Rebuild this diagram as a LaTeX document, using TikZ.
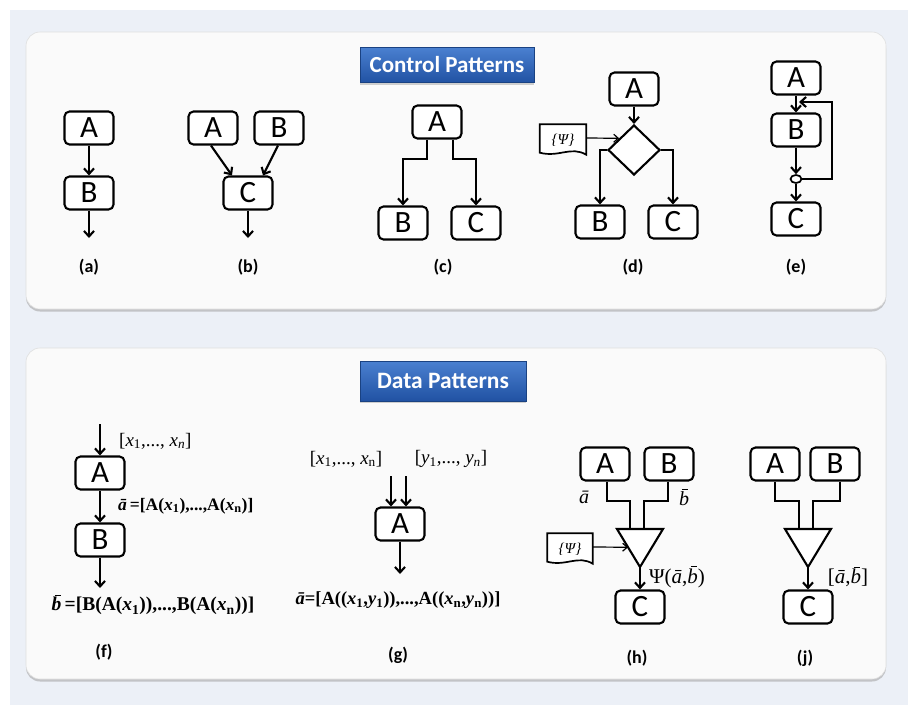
\documentclass[tikz,border=0pt]{standalone}
\usepackage{fontspec}
\setmainfont{Liberation Serif}
\newfontfamily\carl{Carlito}
\usetikzlibrary{arrows.meta,shapes.geometric,shadows,calc}
\definecolor{bgc}{HTML}{ECF0F7}
\definecolor{panelc}{HTML}{FAFAFA}
\definecolor{titleA}{HTML}{4A80D0}
\definecolor{titleB}{HTML}{2152A3}
\newcommand\va{\textit{ā}}
\newcommand\vb{{\itshape\setbox0\hbox{b}\makebox[0pt][l]{\hspace{0.32\wd0}\rule[1.1\ht0]{0.58\wd0}{0.055em}}\box0}}
\newcommand\iv[1]{\textit{#1}}
\begin{document}
\begin{tikzpicture}[x=1pt,y=-1pt,
  panel/.style={fill=panelc,draw=gray!25,line width=0.6pt,rounded corners=14pt,
     drop shadow={shadow xshift=0pt,shadow yshift=-2.5pt,fill=gray!70,opacity=.6}},
  title/.style={top color=titleA,bottom color=titleB,draw=titleB!80!black,line width=0.4pt,
     text=white,font=\carl\bfseries\fontsize{23}{23}\selectfont,minimum width=174pt,
     minimum height=35pt,inner sep=0pt,
     drop shadow={shadow xshift=0pt,shadow yshift=-2pt,fill=gray!60,opacity=.6}},
  bx/.style={draw,fill=white,line width=2.1pt,rounded corners=5pt,minimum width=49pt,
     minimum height=33pt,inner sep=0pt,font=\carl\fontsize{31}{31}\selectfont},
  lbl/.style={font=\carl\bfseries\fontsize{18}{18}\selectfont},
  ln/.style={line width=2.1pt},
  arr/.style={line width=2.1pt,-{Straight Barb[length=5.5pt,width=10pt]}},
  thinarr/.style={line width=1.2pt,-{Straight Barb[length=4.5pt,width=8pt]}},
  psibox/.style={minimum width=46pt,minimum height=27pt,inner sep=0pt},
  psitext/.style={inner sep=0pt,font=\itshape\fontsize{15}{15}\selectfont},
  math/.style={font=\fontsize{19}{19}\selectfont,inner sep=0pt},
  mathb/.style={font=\bfseries\fontsize{18.5}{18.5}\selectfont,inner sep=0pt}
]
\useasboundingbox (0,0) rectangle (908,705);
\fill[white] (0,0) rectangle (908,705);
\fill[bgc] (10,10) rectangle (908,705);

% panels
\path[panel] (26,32) rectangle (886,309);
\path[panel] (26,348) rectangle (886,679);
\node[title] (t1) at (447,65) {Control Patterns};
\node[title,minimum width=166pt,minimum height=40pt,font=\carl\bfseries\fontsize{23.5}{23.5}\selectfont] (t2) at (443,381) {Data Patterns};

% (a)
\node[bx] (aA) at (89,128) {A};
\node[bx] (aB) at (89,193) {B};
\coordinate (aE) at (89,238);
\draw[arr] (aA) -- (aB);
\draw[arr] (aB) -- (aE);
\node[lbl] (la) at (89,267) {(a)};

% (b)
\node[bx] (bA) at (213,128) {A};
\node[bx] (bB) at (279,128) {B};
\node[bx] (bC) at (248,193) {C};
\coordinate (bE) at (248,238);
\draw[arr] ([xshift=-2pt]bA.south) -- ([xshift=-16pt]bC.north);
\draw[arr] ([xshift=-1pt]bB.south) -- ([xshift=15pt]bC.north);
\draw[arr] (bC) -- (bE);
\node[lbl] (lb) at (248,267) {(b)};

% (c)
\node[bx] (cA) at (437,122) {A};
\node[bx] (cB) at (403,223) {B};
\node[bx] (cC) at (476,223) {C};
\draw[arr] ([xshift=-10pt]cA.south) -- ++(0,19) -| (cB.north);
\draw[arr] ([xshift=16pt]cA.south) -- ++(0,19) -| (cC.north);
\node[lbl] (lc) at (443,267) {(c)};

% (d)
\node[bx] (dA) at (634,89) {A};
\node[diamond,draw,fill=white,line width=2.1pt,minimum width=52pt,minimum height=50pt,inner sep=0pt] (dD) at (634,150) {};
\node[bx] (dB) at (600,222) {B};
\node[bx] (dC) at (673,222) {C};
\node[psibox] (dP) at (563,138) {};
\draw[line width=1.7pt,fill=white] (dP.north west) -- (dP.north east) -- ([yshift=-3pt]dP.south east)
   .. controls ($(dP.south)+(8,-6)$) and ($(dP.south)+(-4,6)$) .. ([yshift=-1pt]dP.south west) -- cycle;
\node[psitext] (dPt) at ([yshift=-2pt]dP.center) {\{Ψ\}};
\draw[arr] (dA) -- (dD.north);
\draw[thinarr] (dP.east) -- ($(dD.north)!0.55!(dD.west)$);
\draw[arr] (dD.west) -| (dB.north);
\draw[arr] (dD.east) -| (dC.north);
\node[lbl] (ld) at (633,267) {(d)};

% (e)
\node[bx] (eA) at (796,78) {A};
\node[bx] (eB) at (796,130) {B};
\node[ellipse,draw,fill=white,line width=1.7pt,minimum width=11pt,minimum height=8pt,inner sep=0pt] (eO) at (796,179) {};
\node[bx] (eC) at (796,219) {C};
\coordinate (eR) at (832,179);
\coordinate (eL) at (799,102);
\draw[arr] (eA) -- (eB);
\draw[arr] (eB) -- (eO);
\draw[arr] (eO) -- (eC);
\draw[arr] (eO.east) -- (eR) |- (eL);
\node[lbl] (le) at (796,267) {(e)};

% (f)
\node[bx] (fA) at (100,473) {A};
\node[bx] (fB) at (100,540) {B};
\coordinate (fIn) at (100,424);
\coordinate (fOut) at (100,588);
\draw[arr] (fIn) -- (fA);
\draw[arr] (fA) -- (fB);
\draw[arr] (fB) -- (fOut);
\node[math,anchor=west] (fx) at (119,441) {[\iv{x}\textsubscript{1},..., \iv{x\textsubscript{n}}]};
\node[font=\bfseries\fontsize{17.5}{17.5}\selectfont,inner sep=0pt,anchor=west] (fa) at (118,506) {\va\,=[A(\iv{x}\textsubscript{1}),...,A(\iv{x}\textsubscript{n})]};
\node[mathb,font=\bfseries\fontsize{19.5}{19.5}\selectfont] (fb) at (153,605) {\vb\,=[B(A(\iv{x}\textsubscript{1})),...,B(A(\iv{x}\textsubscript{n}))]};
\node[lbl] (lf) at (104,652) {(f)};

% (g)
\node[bx] (gA) at (400,524) {A};
\coordinate (gIn1) at (391,476);
\coordinate (gIn2) at (406,476);
\coordinate (gOut) at (400,574);
\draw[arr] (gIn1) -- (gIn1 |- gA.north);
\draw[arr] (gIn2) -- (gIn2 |- gA.north);
\draw[arr] (gA) -- (gOut);
\node[math] (gx) at (346,459) {[\iv{x}\textsubscript{1},..., \iv{x}\textsubscript{n}]};
\node[math] (gy) at (451,459) {[\iv{y}\textsubscript{1},..., \iv{y\textsubscript{n}}]};
\node[mathb] (ga) at (398,600) {\va=[A((\iv{x}\textsubscript{1},\iv{y}\textsubscript{1})),...,A((\iv{x}\textsubscript{n},\iv{y}\textsubscript{n}))]};
\node[lbl] (lg) at (398,655) {(g)};

% (h)
\node[bx] (hA) at (605,464) {A};
\node[bx] (hB) at (669,464) {B};
\coordinate (hTL) at (617,529);
\coordinate (hTR) at (663,529);
\coordinate (hTb) at (640,567);
\coordinate (hI1) at (630,529);
\coordinate (hI2) at (644,529);
\draw[line width=2.1pt,fill=white] (hTL) -- (hTR) -- (hTb) -- cycle;
\draw[ln] ([xshift=2pt]hA.south) -- ++(0,19) -| (hI1);
\draw[ln] ([xshift=-1pt]hB.south) -- ++(0,19) -| (hI2);
\node[bx] (hC) at (640,607) {C};
\draw[arr] (hTb) -- (hC);
\node[psibox,minimum width=45pt,minimum height=27pt] (hP) at (570,547) {};
\draw[line width=1.7pt,fill=white] (hP.north west) -- (hP.north east) -- ([yshift=-3pt]hP.south east)
   .. controls ($(hP.south)+(8,-6)$) and ($(hP.south)+(-4,6)$) .. ([yshift=-1pt]hP.south west) -- cycle;
\node[psitext] (hPt) at ([yshift=-2pt]hP.center) {\{Ψ\}};
\draw[thinarr] (hP.east) -- ($(hTL)!0.48!(hTb)$);
\node[math,font=\fontsize{20}{20}\selectfont] (ha) at (584,497) {\va};
\node[math,font=\fontsize{20}{20}\selectfont] (hb) at (684,497) {\vb};
\node[math,anchor=west,font=\fontsize{21}{21}\selectfont] (hpsi) at (649,577) {Ψ(\va,\vb)};
\node[lbl] (lh) at (637,658) {(h)};

% (j)
\node[bx] (jA) at (775,464) {A};
\node[bx] (jB) at (835,464) {B};
\coordinate (jTL) at (785,529);
\coordinate (jTR) at (831,529);
\coordinate (jTb) at (808,567);
\coordinate (jI1) at (799,529);
\coordinate (jI2) at (813,529);
\draw[line width=2.1pt,fill=white] (jTL) -- (jTR) -- (jTb) -- cycle;
\draw[ln] (jA.south) -- ++(0,19) -| (jI1);
\draw[ln] ([xshift=5pt]jB.south) -- ++(0,19) -| (jI2);
\node[bx] (jC) at (808,607) {C};
\draw[arr] (jTb) -- (jC);
\node[math,font=\fontsize{21}{21}\selectfont] (jab) at (848,577) {[\va,\vb]};
\node[lbl] (lj) at (805,658) {(j)};
\end{tikzpicture}
\end{document}
